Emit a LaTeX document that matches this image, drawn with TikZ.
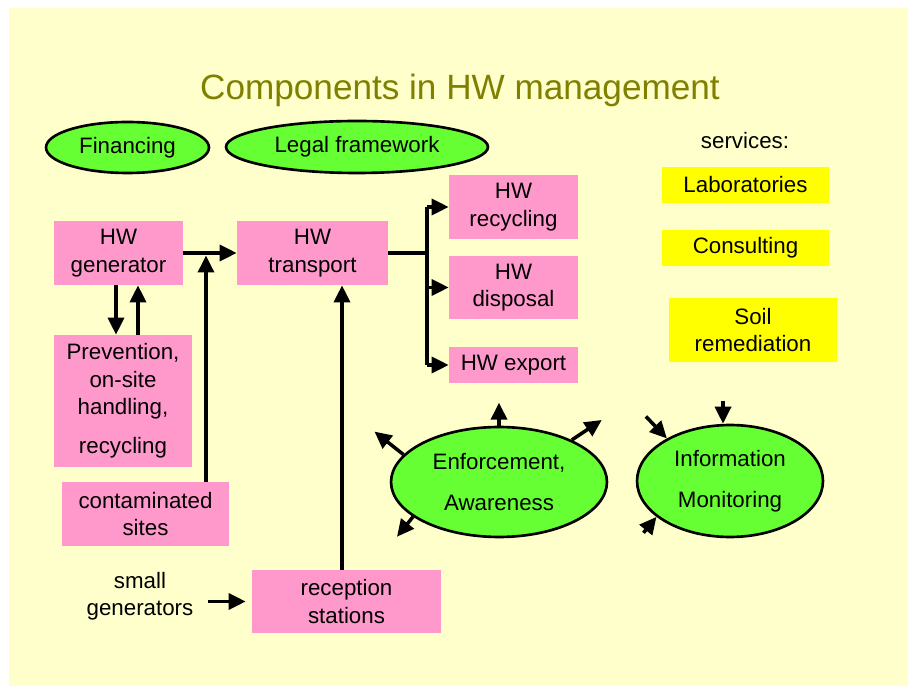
\documentclass[tikz,border=0pt]{standalone}
\usepackage{fontspec}
\setmainfont{Liberation Sans}
\usepackage{xcolor}
\definecolor{paper}{HTML}{FFFFCC}
\definecolor{hwpink}{HTML}{FF99CC}
\definecolor{hwgreen}{HTML}{66FF33}
\definecolor{hwyellow}{HTML}{FFFF00}
\definecolor{titleolive}{HTML}{808000}
\usetikzlibrary{calc,positioning,arrows.meta,shapes.geometric}

\begin{document}
\begin{tikzpicture}[
    x=0.02cm, y=0.02cm,
    every node/.style={font=\fontsize{12.7}{15.6}\selectfont, align=center},
    box/.style={fill=hwpink, inner sep=0pt, minimum width=2.58cm, minimum height=1.28cm},
    service/.style={fill=hwyellow, inner sep=0pt, minimum width=3.34cm, minimum height=0.72cm},
    bubble/.style={ellipse, draw, line width=1.5pt, fill=hwgreen, inner sep=0pt},
    line/.style={line width=2pt},
    arrow/.style={line, -{Triangle[length=0.34cm, width=0.32cm]}}
]
  % Page
  \useasboundingbox (0,0) rectangle (908,686);
  \fill[white] (0,0) rectangle (908,686);
  \fill[paper] (9,0) rectangle (908,678);

  % Title
  \node[font=\fontsize{20}{24}\selectfont, text=titleolive] (title) at (460,596) {Components in HW management};

  % Framework
  \node[bubble, minimum width=3.26cm, minimum height=1.02cm] (fin) at (127.5,538.5) {Financing};
  \node[bubble, minimum width=5.24cm, minimum height=1.04cm] (legal) at (357,539) {Legal framework};

  % Services
  \node (services) at (745,545) {services:};
  \node[service] (lab) at (745.5,501) {Laboratories};
  \node[service] (cons) at (745.5,438) {Consulting};
  \node[service, minimum width=3.36cm, minimum height=1.28cm] (soil) at (753,356) {Soil\\ remediation};

  % Waste flow
  \node[box] (gen) at (118.5,433) {HW\\ generator};
  \node[box, minimum width=3.02cm] (trans) at (312.5,433) {HW\\ transport};
  \node[box, minimum width=2.76cm, minimum height=2.64cm] (prev) at (123,285) {Prevention,\\ on-site\\ handling,\\[6.5pt] recycling};
  \node[box, minimum width=3.34cm] (cont) at (145.5,172) {contaminated\\ sites};
  \node[box, minimum width=3.78cm, minimum height=1.26cm] (recep) at (346.5,84.5) {reception\\ stations};
  \node (small) at (140,90) {small\\ generators};

  \node[box] (rec) at (513.5,479) {HW\\ recycling};
  \node[box, minimum height=1.26cm] (disp) at (513.5,398.5) {HW\\ disposal};
  \node[box, minimum height=0.72cm] (exp) at (513.5,321) {HW export};

  \draw[arrow] (gen.east) -- (trans.west);
  \draw[arrow] ([xshift=-0.05cm]gen.south) -- ([xshift=-0.05cm]gen.south |- prev.north);
  \draw[arrow] ([xshift=0.39cm]gen.south |- prev.north) -- ([xshift=0.39cm]gen.south);
  \draw[arrow, shorten >=0.05cm] ([xshift=1.21cm]cont.north) -- ([xshift=1.21cm]cont.north |- gen.east);
  \draw[arrow] ([xshift=-0.09cm]recep.north) -- ([xshift=-0.09cm]recep.north |- trans.south);
  \draw[arrow, shorten <=0.16cm, shorten >=0.12cm] (small.east |- recep.west) -- (recep.west);

  % Fork to treatment
  \coordinate (fork) at (427,435);
  \draw[line] (trans.east) -- (trans.east -| fork);
  \draw[line] (fork |- rec.west) -- (fork |- exp.west);
  \foreach \b in {rec,disp,exp}
    \draw[arrow] (fork |- \b.west) -- (\b.west);

  % Enforcement and information
  \node[bubble, minimum width=4.32cm, minimum height=2.2cm] (enf) at (499,204) {Enforcement,\\[8pt] Awareness};
  \node[bubble, minimum width=3.72cm, minimum height=2.24cm] (info) at (730,205) {Information\\[8pt] Monitoring};

  \draw[arrow] (enf.north) -- ++(0,23);
  \draw[arrow] (enf.30) -- ++(30,20);
  \draw[arrow] (enf.164) -- ++(-29,23);
  \draw[arrow] (enf.202) -- ++(-16,-20);

  \draw[arrow] ([xshift=-0.14cm, yshift=0.46cm]info.north) -- ([xshift=-0.14cm]info.north);
  \draw[arrow] ($(info.146)+(-21,22)$) -- (info.146);
  \draw[arrow] ($(info.206)+(-13,-16)$) -- (info.206);
\end{tikzpicture}
\end{document}
